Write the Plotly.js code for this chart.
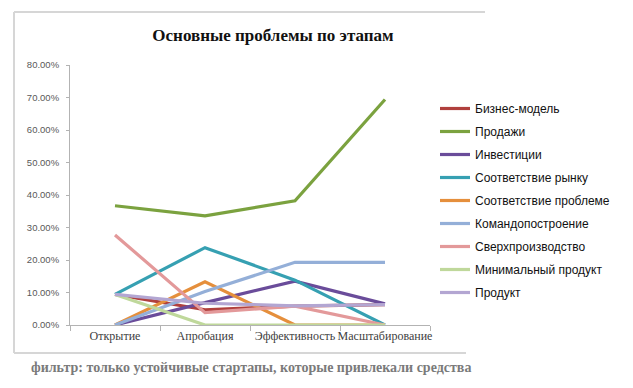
<!DOCTYPE html>
<html>
<head>
<meta charset="utf-8">
<script src="https://cdn.plot.ly/plotly-3.0.1.min.js"></script>
<style>html,body{margin:0;padding:0;background:#fff;}#chart{width:633px;height:388px;}</style>
</head>
<body>
<div id="chart"></div>
<script>
const stages = ["Открытие", "Апробация", "Эффективность", "Масштабирование"];
const seriesNames = ["Бизнес-модель", "Продажи", "Инвестиции", "Соответствие рынку", "Соответствие проблеме", "Командопостроение", "Сверхпроизводство", "Минимальный продукт", "Продукт"];
const businessModel = [0.094, 0.047, 0.058, 0.063];
const sales = [0.367, 0.336, 0.382, 0.694];
const investments = [0.0, 0.069, 0.135, 0.065];
const marketFit = [0.094, 0.238, 0.138, 0.0];
const problemFit = [0.0, 0.133, 0.0, 0.0];
const teamBuilding = [0.0, 0.103, 0.193, 0.193];
const overproduction = [0.277, 0.038, 0.058, 0.0];
const mvp = [0.094, 0.0, 0.0, 0.0];
const product = [0.094, 0.067, 0.059, 0.063];
const seriesValues = [businessModel, sales, investments, marketFit, problemFit, teamBuilding, overproduction, mvp, product];
const colors = ["#B0403D", "#7BA23F", "#6A4C9A", "#36A0B2", "#E58F3C", "#94AFD8", "#E3999A", "#BFD89B", "#B3A6D2"];

const traces = seriesNames.map((n, i) => ({
  type: "scatter", mode: "lines", name: n, x: stages, y: seriesValues[i],
  line: {color: colors[i], width: 3.2}, legendgroup: "g" + i
}));

function px(x) { return (x - 70) / 360; }
function py(y) { return (325 - y) / 260; }
const frameColor = "#D6D6D6";

const layout = {
  width: 633, height: 388,
  margin: {l: 70, r: 203, t: 65, b: 63},
  paper_bgcolor: "#fff", plot_bgcolor: "#fff",
  showlegend: true,
  title: {text: "<b>Основные проблемы по этапам</b>", x: 273/633, xanchor: "center", y: 1 - 35/388, yanchor: "middle",
          font: {family: "Liberation Serif", size: 17, color: "#111"}},
  xaxis: {type: "category", range: [-0.5, 3.5], showgrid: false, showline: true, linecolor: "#B3B3B3", linewidth: 1,
          ticks: "outside", tickson: "boundaries", ticklen: 5, tickcolor: "#B3B3B3", tickangle: 0,
          tickfont: {family: "Liberation Serif", size: 12, color: "#404040"}, zeroline: false, fixedrange: true},
  yaxis: {range: [0, 0.8], dtick: 0.1, tickformat: ".2%", showgrid: false, showline: true, linecolor: "#B3B3B3", linewidth: 1,
          ticks: "outside", ticklen: 3, tickcolor: "#B3B3B3", zeroline: false, ticklabelstandoff: 5,
          tickfont: {family: "Liberation Sans", size: 9.5, color: "#595959"}},
  legend: {x: px(435), xanchor: "left", y: py(94), yanchor: "top", traceorder: "grouped", tracegroupgap: 4,
           font: {family: "Liberation Sans", size: 12, color: "#111"}, bgcolor: "rgba(0,0,0,0)", itemwidth: 30},
  shapes: [
    {type: "line", xref: "paper", yref: "paper", x0: px(14), x1: px(485), y0: py(12), y1: py(12), line: {color: frameColor, width: 2}},
    {type: "line", xref: "paper", yref: "paper", x0: px(14), x1: px(14), y0: py(12), y1: py(353), line: {color: frameColor, width: 2}},
    {type: "line", xref: "paper", yref: "paper", x0: px(14), x1: px(466), y0: py(353), y1: py(353), line: {color: frameColor, width: 2}}
  ],
  annotations: [
    {xref: "paper", yref: "paper", x: px(251), y: py(367), xanchor: "center", yanchor: "middle", showarrow: false,
     text: "<b>фильтр: только устойчивые стартапы, которые привлекали средства</b>",
     font: {family: "Liberation Serif", size: 14, color: "#7A7A7A"}}
  ]
};

Plotly.newPlot("chart", traces, layout, {displayModeBar: false, staticPlot: true});
</script>
</body>
</html>
